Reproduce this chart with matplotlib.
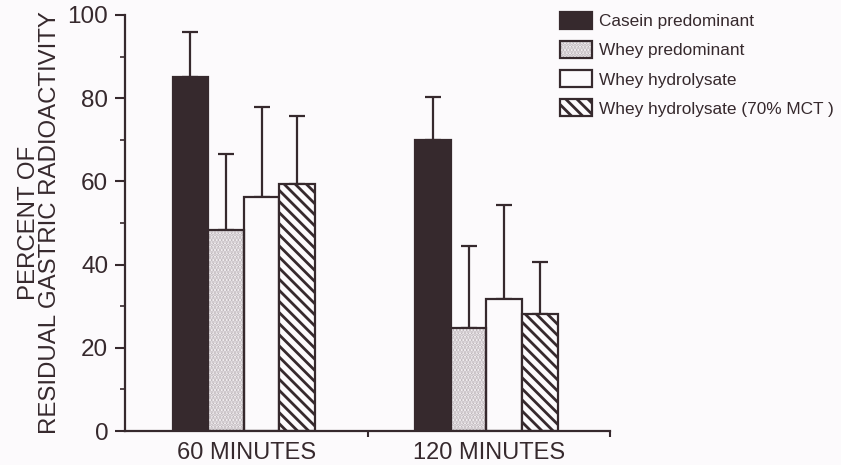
"""
Residual gastric radioactivity by formula, 60 and 120 minutes
"""
import numpy as np
import matplotlib
matplotlib.use('Agg')
import matplotlib.pyplot as plt
from matplotlib.patches import Patch
from matplotlib.legend_handler import HandlerTuple

# data
times = ['60 MINUTES', '120 MINUTES']
formulas = ['Casein predominant', 'Whey predominant', 'Whey hydrolysate',
            'Whey hydrolysate (70% MCT )']
means = [[85.0, 70.0],
         [48.3, 24.8],
         [56.3, 31.7],
         [59.4, 28.1]]
sds = [[11.0, 10.4],
       [18.3, 19.7],
       [21.7, 22.6],
       [16.3, 12.5]]

ink = '#36292d'
bg = '#fcfafc'
plt.rcParams['font.family'] = ['Liberation Sans', 'DejaVu Sans']
plt.rcParams['hatch.linewidth'] = 2.0

fig = plt.figure(figsize=(8.41, 4.65), dpi=100, facecolor=bg)
ax = fig.add_axes([125 / 841, 1 - 431 / 465, 485 / 841, 416 / 465])
ax.set_facecolor(bg)

x = np.arange(len(times))
width = 0.147
offsets = (np.arange(4) - 1.5) * width - 0.01

styles = [dict(facecolor=ink, hatch=None, hcolor=None),
          dict(facecolor=bg, hatch='.....', hcolor='#bdb5b9'),
          dict(facecolor=bg, hatch=None, hcolor=None),
          dict(facecolor=bg, hatch='\\\\\\', hcolor=ink)]

handles = []
for i, st in enumerate(styles):
    xs = x + offsets[i]
    ax.errorbar(xs, means[i], yerr=[np.zeros(2), sds[i]], fmt='none',
                ecolor=ink, elinewidth=1.6, capsize=6, capthick=1.6, zorder=1)
    if st['hatch']:
        ax.bar(xs, means[i], width, color=st['facecolor'], hatch=st['hatch'],
               edgecolor=st['hcolor'], linewidth=0, zorder=2)
        ax.bar(xs, means[i], width, fill=False, edgecolor=ink, linewidth=1.6, zorder=3)
        h = (Patch(facecolor=st['facecolor'], hatch=st['hatch'], edgecolor=st['hcolor'], linewidth=0),
             Patch(fill=False, edgecolor=ink, linewidth=1.6))
    else:
        ax.bar(xs, means[i], width, color=st['facecolor'], edgecolor=ink,
               linewidth=1.6, zorder=2)
        h = Patch(facecolor=st['facecolor'], edgecolor=ink, linewidth=1.6)
    handles.append(h)

ax.set_xlim(-0.5, 1.5)
ax.set_ylim(0, 100)
ax.set_xticks(x)
ax.set_xticklabels(times, fontsize=17, color=ink)
ax.set_xticks([0.5, 1.5], minor=True)
ax.tick_params(axis='x', which='major', length=0, pad=8)
ax.tick_params(axis='x', which='minor', length=4, width=1.5, color=ink, direction='out')
ax.set_yticks(np.arange(0, 101, 20))
ax.set_yticks(np.arange(10, 100, 20), minor=True)
ax.tick_params(axis='y', which='major', length=7, width=1.5, color=ink,
               labelsize=17.5, labelcolor=ink, pad=5)
ax.tick_params(axis='y', which='minor', length=3.5, width=1.2, color=ink)
for side in ['top', 'right']:
    ax.spines[side].set_visible(False)
for side in ['left', 'bottom']:
    ax.spines[side].set_color(ink)
    ax.spines[side].set_linewidth(1.6)

ax.set_ylabel('PERCENT OF\nRESIDUAL GASTRIC RADIOACTIVITY', fontsize=17.3,
              color=ink, linespacing=0.92, labelpad=5)

fig.legend(handles, formulas, loc='upper left',
           bbox_to_anchor=(560 / 841, 1 - 12 / 465), frameon=False, fontsize=12.4,
           handlelength=1.85, handleheight=1.15, labelspacing=0.68,
           handletextpad=0.42, borderpad=0, borderaxespad=0,
           labelcolor=ink, handler_map={tuple: HandlerTuple(ndivide=1, pad=0)})

fig.savefig('out.png', dpi=100, facecolor=bg)
